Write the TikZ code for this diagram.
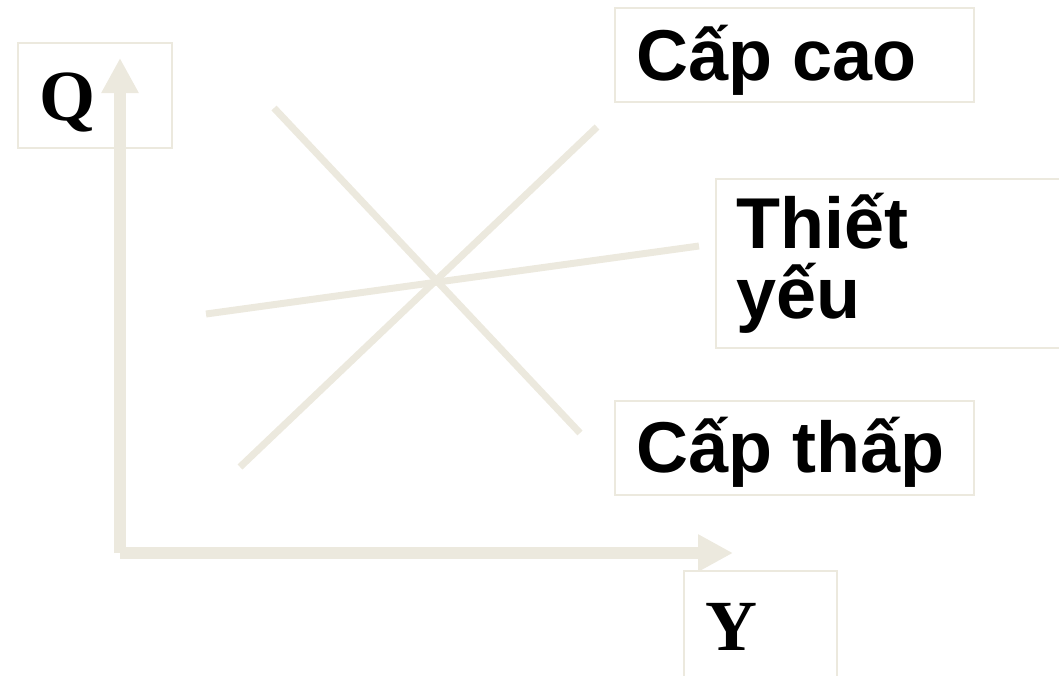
\documentclass[tikz,border=0pt]{standalone}
\usepackage{fontspec}
\setmainfont{Liberation Sans}
\newfontfamily\axisfont{Liberation Serif}
\usetikzlibrary{arrows.meta}
\definecolor{paleline}{HTML}{ECE9DE}

\begin{document}
\begin{tikzpicture}[x=1pt,y=-1pt]
\tikzset{
  axis/.style={paleline,line width=12pt,-{Triangle[length=35pt,width=35pt]}},
  curve/.style={paleline,line width=7pt},
  labelbox/.style={draw=paleline,line width=2pt,anchor=north west,inner sep=0pt},
  labeltext/.style={anchor=base west,inner sep=0pt,font=\fontsize{72}{72}\selectfont\bfseries},
  axislabel/.style={anchor=base,inner sep=0pt,font=\fontsize{72}{72}\selectfont\axisfont\bfseries}
}
\useasboundingbox (0,0) rectangle (1059,675);
% label frames
\node[labelbox,minimum width=154,minimum height=105] (b_q) at (17,42) {};
\node[labelbox,minimum width=359,minimum height=94] (b_high) at (614,7) {};
\node[labelbox,minimum width=352,minimum height=169] (b_need) at (715,178) {};
\node[labelbox,minimum width=359,minimum height=94] (b_low) at (614,400) {};
\node[labelbox,minimum width=153,minimum height=112] (b_y) at (683,570) {};
% axes
\coordinate (o) at (120,553);
\coordinate (q_tip) at (120,58);
\coordinate (y_tip) at (733,553);
\draw[axis] (o) -- (q_tip);
\draw[axis] (o) -- (y_tip);
% income curves
\coordinate (high_a) at (240,467);
\coordinate (high_b) at (597,127);
\coordinate (low_a) at (274,108);
\coordinate (low_b) at (580,433);
\coordinate (need_a) at (206,314);
\coordinate (need_b) at (699,246);
\draw[curve] (high_a) -- (high_b);
\draw[curve] (low_a) -- (low_b);
\draw[curve] (need_a) -- (need_b);
% labels
\node[axislabel] (l_q) at (68,120) {Q};
\node[axislabel] (l_y) at (731,650) {Y};
\node[labeltext] (l_high) at (636,80) {Cấp cao};
\node[labeltext] (l_need1) at (736,248) {Thiết};
\node[labeltext] (l_need2) at (736,318) {yếu};
\node[labeltext] (l_low) at (636,472) {Cấp thấp};
\end{tikzpicture}
\end{document}
